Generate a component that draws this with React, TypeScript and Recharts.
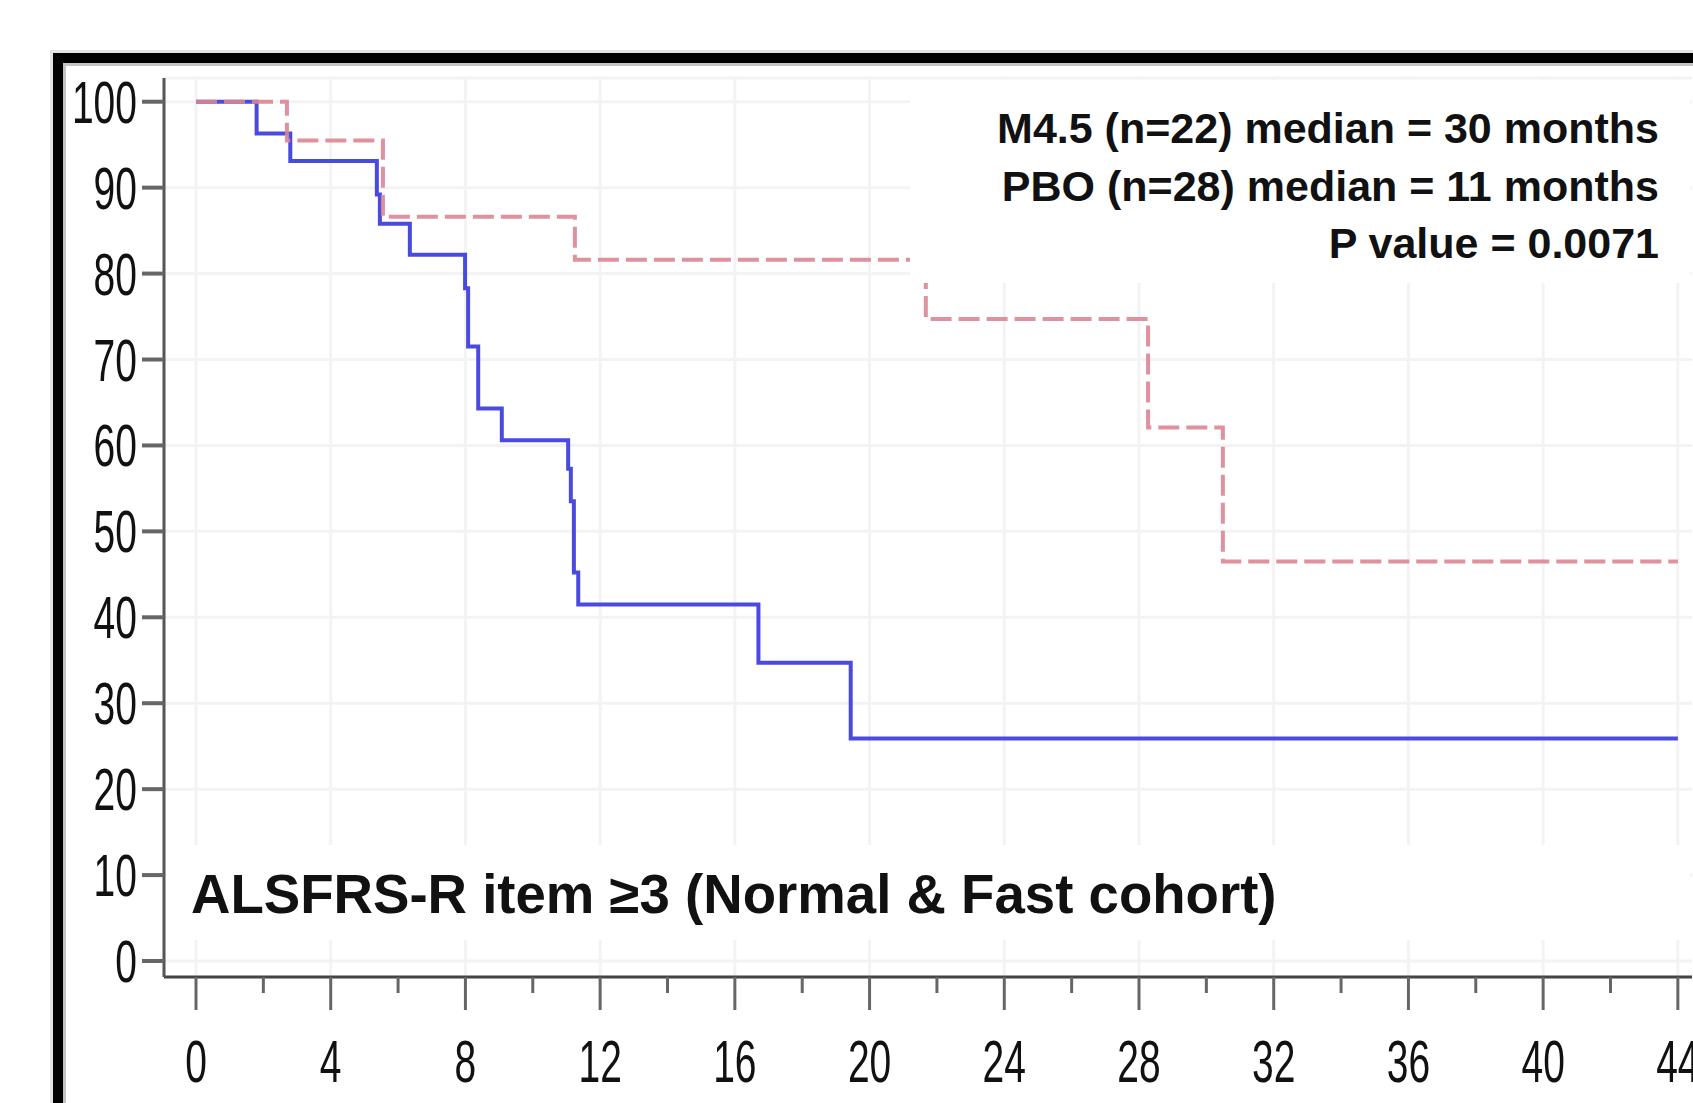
import React from 'react';
import { LineChart, Line, XAxis, YAxis, CartesianGrid } from 'recharts';

// months since baseline
const monthTicks = [0, 2, 4, 6, 8, 10, 12, 14, 16, 18, 20, 22, 24, 26, 28, 30, 32, 34, 36, 38, 40, 42, 44];
const monthLabels = [0, 4, 8, 12, 16, 20, 24, 28, 32, 36, 40, 44];
const pctTicks = [0, 10, 20, 30, 40, 50, 60, 70, 80, 90, 100];

// PBO (n=28) - blue solid
const pboTime = [0, 1.8, 2.8, 5.37, 5.46, 6.35, 7.99, 8.08, 8.38, 9.08, 11.05, 11.13, 11.22, 11.35, 16.7, 19.44, 44];
const pboSurv = [100, 96.3, 93.1, 89.2, 85.8, 82.2, 78.3, 71.5, 64.3, 60.6, 57.3, 53.5, 45.2, 41.5, 34.7, 25.9, 25.9];

// M4.5 (n=22) - red dashed
const m45Time = [0, 2.7, 5.55, 11.25, 21.67, 28.27, 30.49, 44];
const m45Surv = [100, 95.5, 86.6, 81.6, 74.7, 62.1, 46.5, 46.5];

const statsLines = ['M4.5 (n=22) median = 30 months', 'PBO (n=28) median = 11 months', 'P value = 0.0071'];
const panelTitle = 'ALSFRS-R item \u22653 (Normal & Fast cohort)';

const pboData = pboTime.map((t, i) => ({ t, s: pboSurv[i] }));
const m45Data = m45Time.map((t, i) => ({ t, s: m45Surv[i] }));

const FONT = "'Liberation Sans', Arial, Helvetica, sans-serif";

const MonthTick = (props: any) => {
    const { x, y, payload } = props;
    const major = payload.value % 4 === 0;
    return (
        <g>
            <line x1={x} y1={y} x2={x} y2={y + (major ? 33 : 16)} stroke="#666" strokeWidth={3} />
            {major && (
                <text
                    transform={`translate(${x},${y + 105}) scale(0.65,1)`}
                    textAnchor="middle"
                    fontSize={60}
                    fontFamily={FONT}
                    fill="#111"
                >
                    {payload.value}
                </text>
            )}
        </g>
    );
};

const PctTick = (props: any) => {
    const { x, y, payload } = props;
    return (
        <text
            transform={`translate(${x + 3},${y + 21}) scale(0.65,1)`}
            textAnchor="end"
            fontSize={60}
            fontFamily={FONT}
            fill="#111"
        >
            {payload.value}
        </text>
    );
};

const App: React.FC = () => {
    return (
        <div style={{ position: 'absolute', left: 0, top: 0, width: 1693, height: 1103, overflow: 'hidden', background: '#fff' }}>
            <div
                style={{
                    position: 'absolute', left: 53, top: 53, width: 2000, height: 2000,
                    borderLeft: '10px solid #000', borderTop: '10px solid #000',
                    boxShadow: '-3px -3px 0 #e2e2e2, inset 3px 3px 0 #c4c4c4',
                }}
            />
            <div style={{ position: 'absolute', left: 0, top: 0 }}>
                <LineChart width={1693} height={1103} margin={{ top: 78, right: 1, bottom: 6, left: 4 }}>
                    <CartesianGrid stroke="#f3f3f3" strokeWidth={3} verticalValues={monthLabels} />
                    <XAxis
                        dataKey="t"
                        type="number"
                        domain={[-0.95, 44.42]}
                        ticks={monthTicks}
                        interval={0}
                        allowDataOverflow
                        height={120}
                        tickSize={0}
                        tickMargin={0}
                        tickLine={false}
                        tick={<MonthTick />}
                        axisLine={{ stroke: '#444', strokeWidth: 3 }}
                    />
                    <XAxis
                        xAxisId="top"
                        orientation="top"
                        type="number"
                        domain={[-0.95, 44.42]}
                        height={0}
                        tick={false}
                        tickLine={false}
                        axisLine={{ stroke: '#777', strokeWidth: 3 }}
                    />
                    <YAxis
                        type="number"
                        domain={[-1.86, 102.76]}
                        ticks={pctTicks}
                        interval={0}
                        allowDataOverflow
                        width={160}
                        tickSize={22}
                        tickMargin={8}
                        tickLine={{ stroke: '#666', strokeWidth: 4 }}
                        tick={<PctTick />}
                        axisLine={{ stroke: '#555', strokeWidth: 3 }}
                    />
                    <YAxis
                        yAxisId="right"
                        orientation="right"
                        width={0}
                        tick={false}
                        tickLine={false}
                        axisLine={{ stroke: '#999', strokeWidth: 3 }}
                    />
                    <Line
                        data={pboData}
                        dataKey="s"
                        type="stepAfter"
                        stroke="#4a4ae0"
                        strokeWidth={4}
                        dot={false}
                        activeDot={false}
                        isAnimationActive={false}
                    />
                    <Line
                        data={m45Data}
                        dataKey="s"
                        type="stepAfter"
                        stroke="#dc8592"
                        strokeOpacity={0.9}
                        strokeWidth={4}
                        strokeDasharray="21 7"
                        dot={false}
                        activeDot={false}
                        isAnimationActive={false}
                    />
                </LineChart>
            </div>
            <svg width={1693} height={1103} style={{ position: 'absolute', left: 0, top: 0, pointerEvents: 'none' }}>
                <rect x={910} y={80} width={780} height={203} fill="#fff" />
                {statsLines.map((line, i) => (
                    <text
                        key={line}
                        x={1659}
                        y={143 + i * 57.5}
                        textAnchor="end"
                        fontSize={43}
                        fontWeight="bold"
                        fontFamily={FONT}
                        fill="#111"
                    >
                        {line}
                    </text>
                ))}
                <rect x={166} y={845} width={1524} height={95} fill="#fff" />
                <text x={191} y={913} fontSize={54.6} fontWeight="bold" fontFamily={FONT} fill="#111">
                    {panelTitle}
                </text>
            </svg>
        </div>
    );
};

export default App;
